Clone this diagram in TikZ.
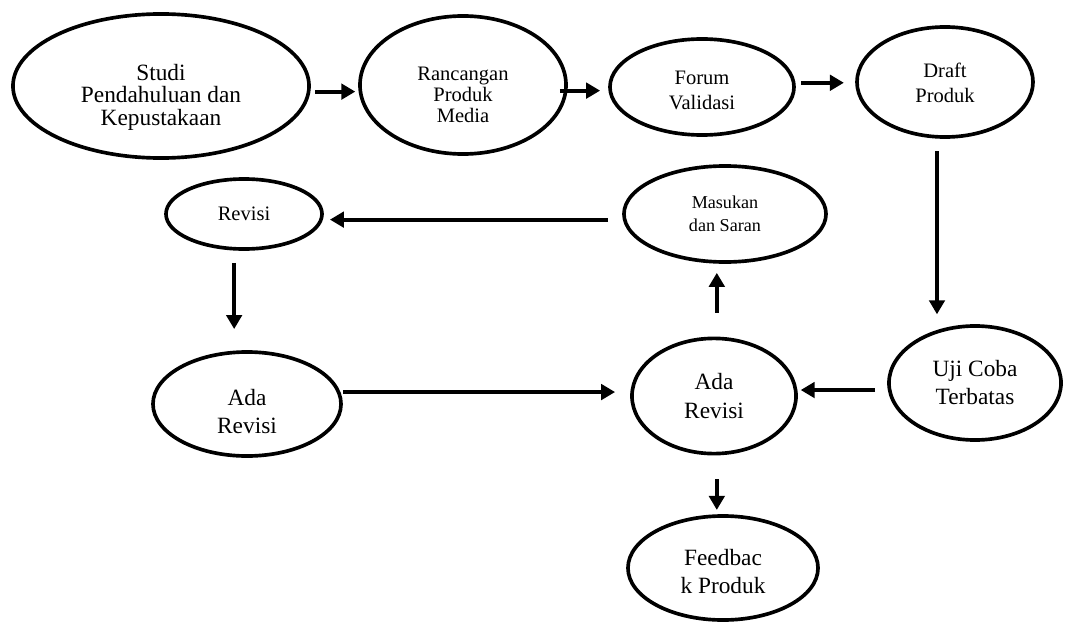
\documentclass[tikz,border=0pt]{standalone}
\usepackage{fontspec}
\setmainfont{Liberation Serif}
\usepackage{tikz}
\usetikzlibrary{shapes,arrows.meta,positioning}

% text lowered inside its ellipse, box size kept
\newcommand{\lowered}[2]{\raisebox{-#1}[\height][\depth]{\begin{tabular}{@{}c@{}}#2\end{tabular}}}

\tikzset{
    bubble/.style={draw, ellipse, line width=2.6pt, inner sep=0pt, align=center},
    bigtext/.style={font=\fontsize{16.6}{20}\selectfont},
    midtext/.style={font=\fontsize{14.6}{17.8}\selectfont},
    smalltext/.style={font=\fontsize{12.9}{16.4}\selectfont},
    arr/.style={-{Triangle[length=10pt,width=11pt]}, line width=2.8pt}
}

\begin{document}
\begin{tikzpicture}[x=0.025cm, y=-0.025cm]
    \useasboundingbox (0,0) rectangle (1072,624);

    % top row
    \node[bubble, font=\fontsize{16.6}{15}\selectfont,
        minimum width=7.4cm, minimum height=3.6cm] (studi) at (161,86)
        {\lowered{8.5pt}{Studi\\Pendahuluan dan\\Kepustakaan}};
    \node[bubble, font=\fontsize{14.6}{15}\selectfont,
        minimum width=5.15cm, minimum height=3.45cm] (rancangan) at (463,85)
        {\lowered{8.5pt}{Rancangan\\Produk\\Media}};
    \node[bubble, midtext,
        minimum width=4.6cm, minimum height=2.4cm] (forum) at (702,87)
        {\lowered{3.5pt}{Forum\\Validasi}};
    \node[bubble, midtext,
        minimum width=4.4cm, minimum height=2.75cm] (draft) at (945,82)
        {\lowered{2pt}{Draft\\Produk}};

    % middle row
    \node[bubble, midtext,
        minimum width=3.9cm, minimum height=1.75cm] (revisi) at (244,214)
        {Revisi};
    \node[bubble, smalltext,
        minimum width=5.05cm, minimum height=2.4cm] (masukan) at (725,214)
        {Masukan\\dan Saran};

    % lower rows
    \node[bubble, bigtext,
        minimum width=4.7cm, minimum height=2.6cm] (adaL) at (247,404)
        {\lowered{7pt}{Ada\\Revisi}};
    \node[bubble, bigtext,
        minimum width=4.1cm, minimum height=2.88cm] (adaM) at (714,396)
        {Ada\\Revisi};
    \node[bubble, bigtext,
        minimum width=4.3cm, minimum height=2.85cm] (uji) at (975,383)
        {\lowered{1.5pt}{Uji Coba\\Terbatas}};
    \node[bubble, bigtext,
        minimum width=4.75cm, minimum height=2.6cm] (feedback) at (723,568)
        {\lowered{4pt}{Feedbac\\k Produk}};

    % arrows
    \draw[arr, shorten <=3pt, shorten >=2pt]
        ([yshift=-4pt]studi.east) -- ([yshift=-4pt]studi.east -| rancangan.west);
    \draw[arr, shorten <=-5.7pt, shorten >=5.7pt]
        ([yshift=-4pt]rancangan.east) -- ([yshift=-4pt]rancangan.east -| forum.west);
    \draw[arr, shorten <=4pt, shorten >=8pt]
        ([yshift=3pt]forum.east) -- ([yshift=3pt]forum.east -| draft.west);
    \draw[arr, shorten <=9pt, shorten >=7pt]
        ([xshift=-5.7pt]draft.south) -- ([xshift=-5.7pt]draft.south |- uji.north);
    \draw[arr, shorten <=10pt, shorten >=4.3pt]
        ([yshift=-4pt]masukan.west) -- ([yshift=-4pt]masukan.west -| revisi.east);
    \draw[arr, shorten <=8.5pt, shorten >=15pt]
        ([xshift=-7pt]revisi.south) -- ([xshift=-7pt]revisi.south |- adaL.north);
    \draw[arr, shorten <=0pt, shorten >=10.7pt]
        ([yshift=8.5pt]adaL.east) -- ([yshift=8.5pt]adaL.east -| adaM.west);
    \draw[arr, shorten <=8.5pt, shorten >=2pt]
        ([yshift=-5pt]uji.west) -- ([yshift=-5pt]uji.west -| adaM.east);
    \draw[arr, shorten <=17pt, shorten >=6.4pt]
        ([xshift=2pt]adaM.north) -- ([xshift=2pt]adaM.north |- masukan.south);
    \draw[arr, shorten <=17pt, shorten >=3pt]
        ([xshift=2pt]adaM.south) -- ([xshift=2pt]adaM.south |- feedback.north);
\end{tikzpicture}
\end{document}
